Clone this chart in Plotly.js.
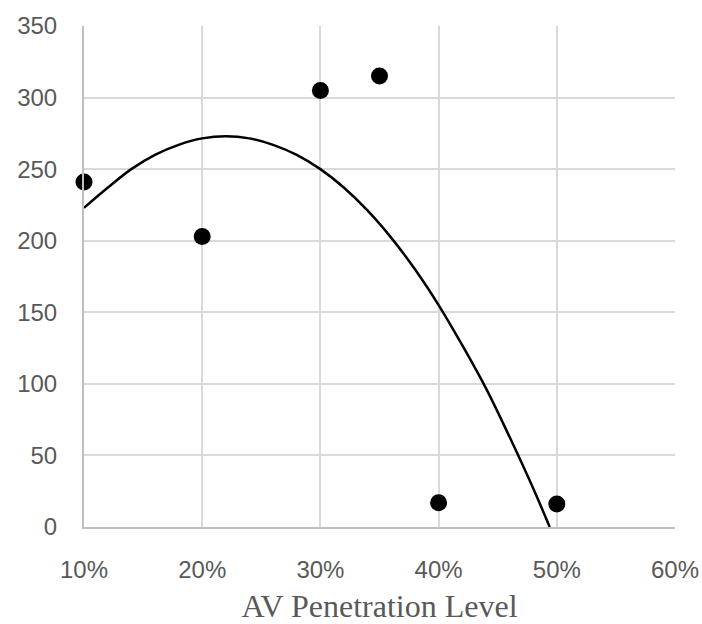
<!DOCTYPE html>
<html>
<head>
<meta charset="utf-8">
<script src="https://cdn.plot.ly/plotly-3.0.1.min.js"></script>
<style>html,body{margin:0;padding:0;background:#fff;}#chart{width:702px;height:624px;}</style>
</head>
<body>
<div id="chart"></div>
<script>
// Observed data points (AV penetration level, value)
const penetration = [0.10, 0.20, 0.30, 0.35, 0.40, 0.50];
const values = [241, 203, 305, 315, 17, 16];

// Trendline
const trendX = [0.10, 0.12, 0.14, 0.16, 0.18, 0.20, 0.22, 0.24, 0.26, 0.28, 0.30, 0.32, 0.34, 0.36, 0.38, 0.40, 0.42, 0.44, 0.46, 0.48, 0.494];
const trendY = [223, 237, 250, 260, 267, 271.5, 273, 271.5, 267, 260, 250, 237, 221, 202, 180, 155, 127, 97, 63, 27, 0];

const xTicks = [0.1, 0.2, 0.3, 0.4, 0.5, 0.6];
const xTickText = ['10%', '20%', '30%', '40%', '50%', '60%'];
const yTicks = [0, 50, 100, 150, 200, 250, 300, 350];

const traces = [
  {
    x: trendX, y: trendY, type: 'scatter', mode: 'lines',
    line: {color: '#000000', width: 2.5, shape: 'spline'},
    hoverinfo: 'skip', showlegend: false, cliponaxis: true
  },
  {
    x: penetration, y: values, type: 'scatter', mode: 'markers',
    marker: {color: '#000000', size: 17},
    showlegend: false, cliponaxis: false
  }
];

const layout = {
  width: 702, height: 624,
  margin: {l: 84, r: 27, t: 26, b: 97},
  paper_bgcolor: '#ffffff', plot_bgcolor: '#ffffff',
  showlegend: false,
  xaxis: {
    range: [0.1, 0.6], tickvals: xTicks, ticktext: xTickText,
    showgrid: true, gridcolor: '#d9d9d9', gridwidth: 2,
    zeroline: false, showline: true, linecolor: '#bfbfbf', linewidth: 2,
    ticks: '', ticklabelstandoff: 20,
    tickfont: {family: 'Liberation Sans, Arial, sans-serif', size: 24, color: '#595959'},
    title: {text: 'AV Penetration Level', standoff: 18,
      font: {family: 'Liberation Serif, Times New Roman, serif', size: 32, color: '#595959'}},
    fixedrange: true
  },
  yaxis: {
    range: [0, 350], tickvals: yTicks,
    showgrid: true, gridcolor: '#d9d9d9', gridwidth: 2,
    zeroline: false, showline: true, linecolor: '#bfbfbf', linewidth: 2,
    ticks: '', ticklabelstandoff: 20,
    tickfont: {family: 'Liberation Sans, Arial, sans-serif', size: 24, color: '#595959'},
    fixedrange: true
  }
};

Plotly.newPlot('chart', traces, layout, {displayModeBar: false, staticPlot: true});
</script>
</body>
</html>
